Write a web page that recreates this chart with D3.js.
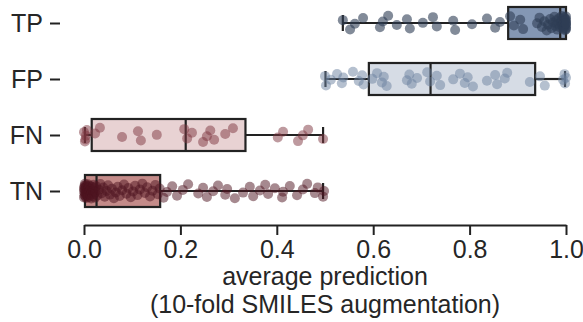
<!DOCTYPE html>
<html>
<head>
<meta charset="utf-8">
<script src="https://cdn.jsdelivr.net/npm/d3@7"></script>
<style>
  body { margin: 0; background: #fff; }
  text { font-family: "Liberation Sans", Arial, sans-serif; fill: #262626; }
</style>
</head>
<body>
<svg id="chart" width="583" height="322"></svg>
<script>
// categories and box statistics
const categories = ["TP", "FP", "FN", "TN"];
const whiskerLow = [0.537, 0.501, 0.002, 0.0];
const q1 = [0.88, 0.591, 0.016, 0.002];
const median = [0.988, 0.719, 0.211, 0.026];
const q3 = [1.0, 0.936, 0.335, 0.158];
const whiskerHigh = [1.0, 0.998, 0.496, 0.496];

// individual average predictions per category
const tpValues = [0.537, 0.552, 0.562, 0.579, 0.614, 0.620, 0.631, 0.649, 0.670, 0.676, 0.703, 0.724, 0.732,
  0.766, 0.770, 0.805, 0.836, 0.853, 0.863, 0.884, 0.892, 0.905, 0.911, 0.94, 0.945, 0.95, 0.955, 0.96,
  0.963, 0.967, 0.97, 0.973, 0.976, 0.978, 0.98, 0.982, 0.984, 0.986, 0.988, 0.99, 0.991, 0.992, 0.993,
  0.994, 0.995, 0.996, 0.997, 0.998, 0.998, 0.999, 0.999, 1.0, 1.0, 1.0, 1.0, 1.0, 1.0, 1.0];
const fpValues = [0.500, 0.502, 0.512, 0.525, 0.535, 0.538, 0.558, 0.57, 0.577, 0.58, 0.598, 0.608, 0.618,
  0.622, 0.628, 0.67, 0.675, 0.68, 0.691, 0.712, 0.718, 0.732, 0.739, 0.766, 0.78, 0.79, 0.796, 0.807,
  0.836, 0.853, 0.857, 0.873, 0.878, 0.925, 0.946, 0.956, 0.994, 0.997, 0.998, 1.0];
const fnValues = [0.0, 0.002, 0.004, 0.006, 0.003, 0.023, 0.033, 0.079, 0.112, 0.118, 0.151, 0.208, 0.214,
  0.224, 0.247, 0.255, 0.262, 0.27, 0.293, 0.309, 0.402, 0.413, 0.444, 0.454, 0.465, 0.496];
const tnValues = [0.0, 0.0, 0.0, 0.001, 0.001, 0.001, 0.002, 0.002, 0.002, 0.003, 0.003, 0.004, 0.004, 0.005,
  0.005, 0.006, 0.006, 0.007, 0.008, 0.008, 0.009, 0.01, 0.01, 0.011, 0.012, 0.013, 0.014, 0.015, 0.016,
  0.017, 0.018, 0.019, 0.02, 0.021, 0.022, 0.023, 0.024, 0.025,
  0.028, 0.031, 0.034, 0.037, 0.04, 0.043, 0.047, 0.05, 0.054, 0.058, 0.062, 0.066, 0.07, 0.074, 0.079,
  0.083, 0.088, 0.092, 0.097, 0.102, 0.106, 0.111, 0.116, 0.121, 0.126, 0.131, 0.137, 0.142, 0.148, 0.153, 0.157,
  0.165, 0.172, 0.183, 0.193, 0.205, 0.216, 0.237, 0.247, 0.255, 0.268, 0.278, 0.293, 0.297, 0.313, 0.33,
  0.344, 0.351, 0.365, 0.376, 0.382, 0.396, 0.411, 0.413, 0.427, 0.442, 0.454, 0.463, 0.479, 0.485, 0.496, 0.498];
const pointValues = [tpValues, fpValues, fnValues, tnValues];

const xTicks = [0, 0.2, 0.4, 0.6, 0.8, 1.0];

const boxFill = ["#8497b4", "#d6dce5", "#e8d2d3", "#c48b89"];
const pointColor = ["#2e3e55", "#6c829f", "#7e3540", "#4d1320"];
const pointAlpha = [0.6, 0.5, 0.5, 0.5];
const ink = "#222222";
const fontSize = 25;

const svg = d3.select("#chart");

const x = d3.scaleLinear().domain([0, 1]).range([84, 566]);
const y = d3.scalePoint().domain(categories).range([23, 191]);
const boxH = 32;
const jitter = 7.5;

// boxes and whiskers
const rows = svg.append("g").selectAll("g")
  .data(categories)
  .enter()
  .append("g");

rows.append("line")
  .attr("x1", (d, i) => x(whiskerLow[i]))
  .attr("x2", (d, i) => x(q1[i]))
  .attr("y1", d => y(d)).attr("y2", d => y(d))
  .attr("stroke", ink).attr("stroke-width", 2.2);
rows.append("line")
  .attr("x1", (d, i) => x(q3[i]))
  .attr("x2", (d, i) => x(whiskerHigh[i]))
  .attr("y1", d => y(d)).attr("y2", d => y(d))
  .attr("stroke", ink).attr("stroke-width", 2.2);
rows.append("line")
  .attr("x1", (d, i) => x(whiskerLow[i])).attr("x2", (d, i) => x(whiskerLow[i]))
  .attr("y1", d => y(d) - 8).attr("y2", d => y(d) + 8)
  .attr("stroke", ink).attr("stroke-width", 2.2);
rows.append("line")
  .attr("x1", (d, i) => x(whiskerHigh[i])).attr("x2", (d, i) => x(whiskerHigh[i]))
  .attr("y1", d => y(d) - 8).attr("y2", d => y(d) + 8)
  .attr("stroke", ink).attr("stroke-width", 2.2);
rows.append("rect")
  .attr("x", (d, i) => x(q1[i]))
  .attr("width", (d, i) => x(q3[i]) - x(q1[i]))
  .attr("y", d => y(d) - boxH / 2)
  .attr("height", boxH)
  .attr("fill", (d, i) => boxFill[i])
  .attr("stroke", ink).attr("stroke-width", 2.2);
rows.append("line")
  .attr("x1", (d, i) => x(median[i])).attr("x2", (d, i) => x(median[i]))
  .attr("y1", d => y(d) - boxH / 2).attr("y2", d => y(d) + boxH / 2)
  .attr("stroke", ink).attr("stroke-width", 2.2);

// strip points (deterministic jitter)
const offset = k => (((k * 0.618034 + 0.31) % 1) - 0.5) * 2 * jitter;
rows.each(function (cat, i) {
  d3.select(this).selectAll("circle")
    .data(pointValues[i])
    .enter()
    .append("circle")
    .attr("cx", v => x(v))
    .attr("cy", (v, k) => y(cat) + offset(k))
    .attr("r", 5)
    .attr("fill", pointColor[i])
    .attr("fill-opacity", pointAlpha[i]);
});

// x axis
const xAxis = svg.append("g")
  .attr("transform", "translate(0,225)")
  .call(d3.axisBottom(x).tickValues(xTicks).tickFormat(d3.format(".1f")).tickSize(10).tickSizeOuter(0).tickPadding(5));
xAxis.select(".domain").attr("stroke", ink).attr("stroke-width", 2);
xAxis.selectAll(".tick line").attr("stroke", ink).attr("stroke-width", 2);
xAxis.selectAll(".tick text").attr("font-size", fontSize).attr("fill", ink)
  .style("font-family", "'Liberation Sans', Arial, sans-serif");

// y ticks and labels
const yAxis = svg.append("g")
  .attr("transform", "translate(60,0)")
  .call(d3.axisLeft(y).tickSize(10).tickSizeOuter(0).tickPadding(7));
yAxis.select(".domain").remove();
yAxis.selectAll(".tick line").attr("stroke", ink).attr("stroke-width", 2);
yAxis.selectAll(".tick text").attr("font-size", fontSize).attr("fill", ink)
  .style("font-family", "'Liberation Sans', Arial, sans-serif");

// axis title
svg.append("text")
  .attr("x", x(0.5)).attr("y", 285)
  .attr("text-anchor", "middle").attr("font-size", fontSize)
  .text("average prediction");
svg.append("text")
  .attr("x", x(0.5)).attr("y", 313)
  .attr("text-anchor", "middle").attr("font-size", fontSize)
  .text("(10-fold SMILES augmentation)");
</script>
</body>
</html>
